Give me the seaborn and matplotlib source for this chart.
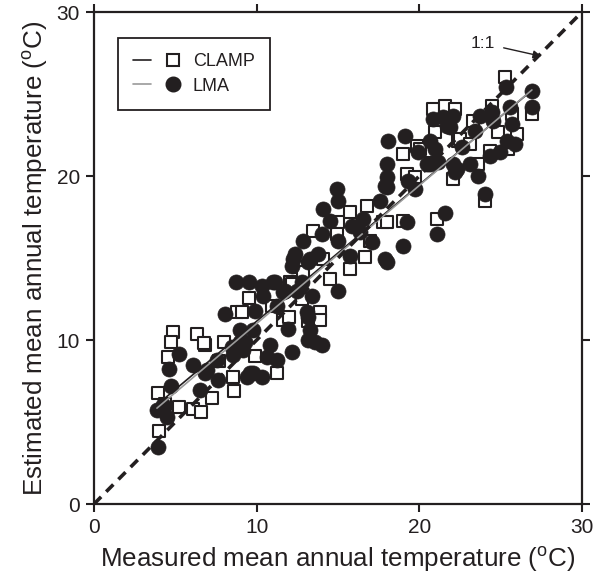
import numpy as np
import pandas as pd
import matplotlib
matplotlib.use("Agg")
import matplotlib.pyplot as plt
import seaborn as sns
from matplotlib.lines import Line2D
from matplotlib.legend_handler import HandlerTuple

# ---- data ----
clamp_x = [4.86, 4.73, 6.33, 6.82, 7.99, 4.55, 7.68, 8.54, 8.60, 3.93, 4.36, 5.22, 7.25, 6.08,
           6.58, 4.00, 12.05, 9.53, 8.79, 9.10, 10.94, 11.62, 11.99, 6.76, 13.15, 12.66, 12.85,
           11.25, 9.90, 15.73, 16.78, 15.00, 13.46, 14.94, 16.66, 15.73, 14.51, 12.17, 14.07,
           17.76, 13.89, 12.78, 16.96, 20.96, 19.85, 18.99, 19.24, 19.73, 22.07, 18.01, 18.99,
           21.08, 22.37, 20.65, 25.26, 20.84, 21.57, 22.19, 24.46, 25.69, 26.92, 23.29, 22.50,
           23.11, 24.83, 26.00, 24.34, 25.45, 23.60, 24.03, 20.04, 13.89]
clamp_y = [10.46, 9.85, 10.34, 9.72, 9.85, 8.99, 8.69, 7.77, 6.91, 6.79, 6.12, 5.93, 6.48, 5.81,
           5.63, 4.46, 13.52, 12.54, 11.68, 11.68, 12.05, 11.25, 11.38, 9.79, 11.13, 14.43, 14.13,
           8.01, 9.05, 17.80, 18.17, 17.19, 16.64, 16.45, 15.05, 14.31, 13.70, 13.39, 14.92,
           17.19, 11.68, 12.48, 16.02, 22.69, 21.83, 21.35, 20.12, 19.94, 19.82, 17.19, 17.25,
           17.37, 22.14, 21.53, 26.06, 24.10, 24.28, 24.10, 24.28, 23.79, 23.79, 23.36, 22.26,
           21.96, 22.69, 22.57, 21.53, 21.65, 20.73, 18.47, 21.65, 11.25]

lma_x = [5.22, 4.61, 4.73, 6.08, 6.82, 7.62, 6.52, 3.87, 4.24, 4.49, 3.93, 8.97, 8.54, 9.59,
         9.16, 8.73, 9.53, 10.33, 11.00, 11.74, 10.39, 8.05, 9.90, 8.97, 9.77, 11.92, 13.15,
         13.28, 8.48, 9.28, 10.82, 12.17, 9.77, 10.33, 9.40, 12.23, 12.17, 13.28, 6.95, 7.56,
         11.25, 12.78, 13.58, 10.63, 14.94, 15.00, 14.08, 14.51, 14.01, 12.85, 15.00, 12.35,
         13.77, 13.15, 15.73, 17.09, 17.58, 17.89, 18.01, 11.12, 11.62, 12.48, 15.00, 13.40,
         11.25, 13.09, 16.35, 16.53, 18.07, 19.11, 20.65, 20.96, 19.91, 18.01, 18.01, 18.01,
         19.30, 19.73, 20.65, 21.14, 22.07, 22.19, 20.84, 21.70, 19.24, 21.57, 21.08, 18.99,
         17.89, 15.86, 25.32, 26.92, 26.92, 21.45, 22.07, 21.88, 23.72, 24.46, 24.52, 25.57,
         25.69, 22.62, 23.42, 25.38, 25.88, 24.34, 24.95, 20.47, 22.31, 23.11, 23.60, 24.03,
         13.15, 14.01]
lma_y = [9.17, 8.26, 7.22, 8.50, 8.01, 7.58, 6.97, 5.75, 6.06, 5.32, 3.49, 9.85, 9.11, 8.01,
         9.42, 13.52, 13.52, 13.27, 13.52, 12.97, 12.66, 11.56, 11.74, 10.64, 10.64, 10.70, 11.38,
         10.64, 9.60, 9.85, 9.72, 9.24, 8.01, 7.77, 7.77, 14.92, 14.50, 14.92, 8.20, 8.81,
         8.81, 13.52, 9.85, 8.99, 19.20, 18.47, 17.98, 17.25, 16.45, 16.02, 16.02, 15.23,
         15.23, 14.74, 15.11, 15.96, 18.47, 19.39, 14.74, 13.52, 12.91, 12.97, 12.97, 12.66,
         12.05, 11.68, 16.57, 17.37, 22.14, 22.45, 22.14, 21.65, 21.47, 20.73, 19.94, 19.33,
         19.69, 19.20, 20.73, 20.86, 20.73, 20.24, 23.49, 23.06, 17.19, 17.74, 16.45, 15.72,
         14.92, 16.94, 25.44, 25.20, 24.22, 23.61, 23.67, 23.00, 23.67, 23.91, 23.36, 24.22,
         23.18, 21.77, 22.75, 22.14, 21.96, 21.22, 21.47, 20.73, 20.43, 20.73, 20.00, 18.90,
         10.03, 9.72]

series_labels = ["CLAMP", "LMA"]
axis_limits = [0, 30]
tick_values = [0, 10, 20, 30]
one_to_one_label = "1:1"

clamp = pd.DataFrame({"measured": clamp_x, "estimated": clamp_y})
lma = pd.DataFrame({"measured": lma_x, "estimated": lma_y})

# ---- style ----
sns.set_theme(style="white")
plt.rcParams["font.family"] = ["Liberation Sans", "DejaVu Sans"]
plt.rcParams["mathtext.default"] = "regular"

ink = "#231f20"
gray = "#9a9a9a"

fig = plt.figure(figsize=(6.01, 5.83), dpi=100)
ax = fig.add_axes([94 / 601, 1 - 504 / 583, 488 / 601, 492 / 583])

# squares (CLAMP) then circles (LMA)
sns.scatterplot(data=clamp, x="measured", y="estimated", ax=ax, marker="s", s=68,
                facecolor="white", edgecolor=ink, linewidth=1.5, zorder=2, legend=False)
sns.scatterplot(data=lma, x="measured", y="estimated", ax=ax, marker="o", s=118,
                color=ink, edgecolor=ink, linewidth=0.5, zorder=3, legend=False)

# regression lines
sns.regplot(data=clamp, x="measured", y="estimated", ax=ax, scatter=False, ci=None,
            truncate=True, line_kws=dict(color=ink, lw=1.2, zorder=5))
sns.regplot(data=lma, x="measured", y="estimated", ax=ax, scatter=False, ci=None,
            truncate=True, line_kws=dict(color=gray, lw=1.2, zorder=5))

# 1:1 line
ax.plot(axis_limits, axis_limits, color=ink, lw=2.6, linestyle=(0, (2.8, 2.0)), zorder=6)

ax.annotate(one_to_one_label, xy=(27.5, 27.3), xytext=(23.9, 28.1),
            fontsize=12.5, color=ink, ha="center", va="center",
            arrowprops=dict(arrowstyle="-|>", color=ink, lw=1.0, shrinkA=4, shrinkB=0,
                            mutation_scale=12))

ax.set_xlim(axis_limits)
ax.set_ylim(axis_limits)
ax.set_xticks(tick_values)
ax.set_yticks(tick_values)
ax.tick_params(axis="both", which="both", direction="out", length=6, width=1.5,
               labelsize=15, colors=ink, top=True, right=True, bottom=True, left=True,
               labeltop=False, labelright=False, pad=4)
for sp in ax.spines.values():
    sp.set_linewidth(1.6)
    sp.set_color(ink)
    sp.set_visible(True)

ax.set_xlabel("Measured mean annual temperature ($^{o}$C)", fontsize=18.7, color=ink, labelpad=6)
ax.set_ylabel("Estimated mean annual temperature ($^{o}$C)", fontsize=18.7, color=ink, labelpad=5)

# legend
h1 = (Line2D([], [], color=ink, lw=1.2),
      Line2D([], [], marker="s", linestyle="none", markersize=8.5, markerfacecolor="white",
             markeredgecolor=ink, markeredgewidth=1.5))
h2 = (Line2D([], [], color=gray, lw=1.2),
      Line2D([], [], marker="o", linestyle="none", markersize=10.5, markerfacecolor=ink,
             markeredgecolor=ink))
leg = ax.legend([h1, h2], series_labels, handler_map={tuple: HandlerTuple(ndivide=None, pad=0.7)},
                loc="upper left", bbox_to_anchor=(0.049, 0.947), borderaxespad=0,
                fontsize=13, handlelength=2.7, handletextpad=0.6, borderpad=0.85,
                labelspacing=0.4, frameon=True, fancybox=False, framealpha=1)
leg.get_frame().set_edgecolor(ink)
leg.get_frame().set_linewidth(1.3)
for t in leg.get_texts():
    t.set_color(ink)

fig.savefig("out.png", dpi=100)
